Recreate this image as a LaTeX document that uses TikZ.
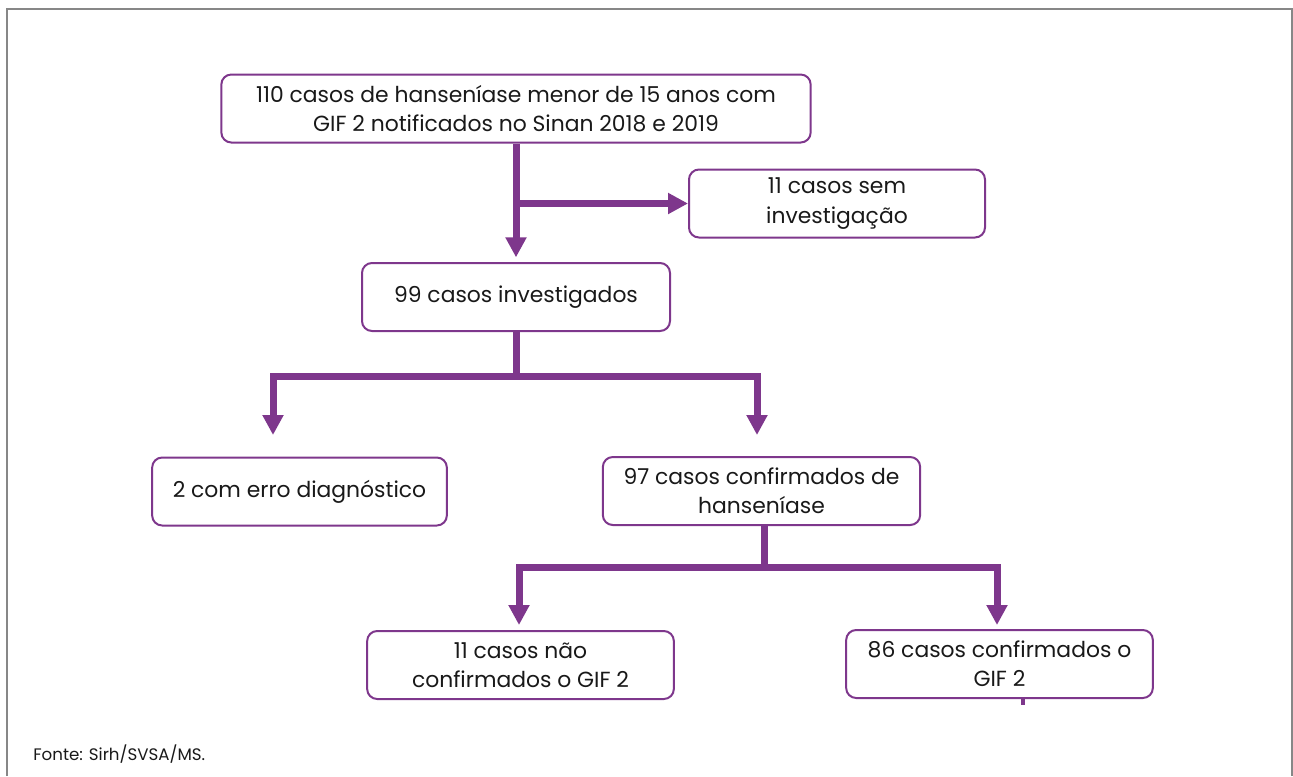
\documentclass[tikz,border=0pt]{standalone}
\usepackage{fontspec}
\setmainfont{Poppins}
\usetikzlibrary{arrows.meta}

\definecolor{roxo}{RGB}{126,55,140}
\definecolor{moldura}{RGB}{135,135,135}
\definecolor{texto}{RGB}{25,25,25}

\begin{document}
\begin{tikzpicture}[x=0.75pt,y=0.75pt,yscale=-1,xscale=1,
  caixa/.style={draw=roxo,line width=1.5pt,rounded corners=7.5pt,fill=white,
    align=center,text=texto,inner sep=0pt,minimum height=51pt,
    font=\fontsize{16.4}{22}\selectfont},
  barra/.style={draw=roxo,line width=5.25pt,line join=miter},
  fluxo/.style={barra,-{Triangle[width=15pt,length=15pt]}}]
\useasboundingbox (0,0) rectangle (1293,776);

%Frame
\draw [moldura,line width=1.2pt] (7,776) -- (7,9) -- (1292,9) -- (1292,776) ;

% Text Node
\node [caixa,minimum width=442pt] (notif) at (516,108.5)
  {110 casos de hanseníase menor de 15 anos com\\GIF 2 notificados no Sinan 2018 e 2019};
% Text Node
\node [caixa,minimum width=222pt] (seminv) at (837,203.5)
  {11 casos sem\\investigação};
% Text Node
\node [caixa,minimum width=231pt] (invest) at (516,297)
  {99 casos investigados};
% Text Node
\node [caixa,minimum width=221pt] (erro) at (299.5,491.5)
  {2 com erro diagnóstico};
% Text Node
\node [caixa,minimum width=238pt] (confhans) at (761.5,491)
  {97 casos confirmados de\\hanseníase};
% Text Node
\node [caixa,minimum width=230pt] (naoconf) at (520.5,665)
  {11 casos não\\confirmados o GIF 2};
% Text Node
\node [caixa,minimum width=230pt] (confgif) at (999.5,664)
  {86 casos confirmados o\\GIF 2};

%Branch points
\coordinate (split1) at (516,376) ;
\coordinate (tipA) at (273,435) ;
\coordinate (tipB) at (757,435) ;
\coordinate (split2) at (764,567) ;
\coordinate (tipC) at (519,625) ;
\coordinate (tipD) at (997,625) ;
\coordinate (stub) at (1023,705) ;

%Arrows
\draw [fluxo,shorten >=3.5pt] (notif.south) -- (invest.north) ;
\draw [fluxo] (notif.south |- seminv.west) -- (seminv.west) ;
\draw [barra] (invest.south) -- (split1) ;
\draw [fluxo] (split1) -| (tipA) ;
\draw [fluxo] (split1) -| (tipB) ;
\draw [barra] (confhans.south -| split2) -- (split2) ;
\draw [fluxo] (split2) -| (tipC) ;
\draw [fluxo] (split2) -| (tipD) ;
\draw [roxo,line width=2.5pt] (confgif.south -| stub) -- (stub) ;

% Text Node
\node [anchor=base west,inner sep=0pt,text=texto,font=\fontsize{12.5}{14}\selectfont] (fonte) at (33,760)
  {Fonte: Sirh/SVSA/MS.};

\end{tikzpicture}
\end{document}
